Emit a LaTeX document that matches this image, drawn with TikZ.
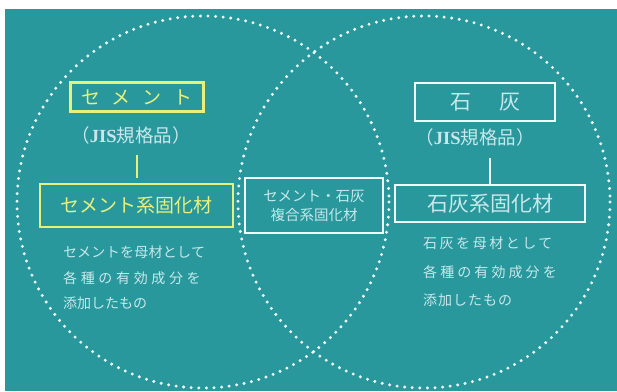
\documentclass[tikz,border=0pt]{standalone}
\usepackage{fontspec}
\newfontfamily\jp{Noto Sans CJK JP}
\newfontfamily\jisfont{Liberation Serif}
\definecolor{bg}{RGB}{40,152,157}
\definecolor{yel}{RGB}{230,240,125}
\definecolor{wht}{RGB}{240,252,252}
\definecolor{txt}{RGB}{200,232,234}
\tikzset{
  dotcircle/.style={draw=wht, line width=3.3pt, line cap=round, dash pattern=on 0pt off 7.6pt},
  ybox/.style={draw=yel, line width=2.8pt, inner sep=0pt, text=yel},
  wbox/.style={draw=wht, line width=2.2pt, inner sep=0pt, text=txt},
  jis/.style={text=txt, inner sep=0pt, font=\jp\fontsize{18.5}{20}\selectfont},
  desc/.style={text=txt, inner sep=0pt, anchor=west, font=\jp\fontsize{14}{16}\selectfont},
  yline/.style={draw=yel, line width=2.4pt},
  wline/.style={draw=wht, line width=2pt}
}
\begin{document}
\begin{tikzpicture}[x=1pt,y=-1pt]
\useasboundingbox (0,0) rectangle (617,391);
\fill[white] (0,0) rectangle (617,391);
\fill[bg] (5,9) rectangle (617,391);
\draw[dotcircle] (203,202) circle (186);
\draw[dotcircle] (424,202) circle (186);

% left side
\node[ybox, minimum width=133pt, minimum height=29pt, font=\jp\fontsize{19}{21}\selectfont] (cem) at (137,97) {セ\hspace{12pt}メ\hspace{12pt}ン\hspace{12pt}ト};
\node[jis] (jisL) at (133,135) {\hspace{-4pt}（{\jisfont\bfseries JIS}規格品）};
\node[ybox, minimum width=193pt, minimum height=43pt, font=\jp\fontsize{19}{21}\selectfont] (cemh) at (136.5,205.5) {セメント系固化材};
\coordinate (lt) at (137,155);
\coordinate (lb) at (137,178);
\draw[yline] (lt) -- (lb);
\node[desc] (dL1) at (63,252) {\addfontfeature{LetterSpace=2}セメントを母材として};
\node[desc] (dL2) at (63,278) {\addfontfeature{LetterSpace=26}各種の有効成分を};
\node[desc] (dL3) at (63,303) {添加したもの};

% right side
\node[wbox, minimum width=140pt, minimum height=38pt, font=\jp\fontsize{21}{23}\selectfont] (lime) at (485,102) {石\hspace{28pt}灰};
\node[jis] (jisR) at (475,137) {（{\jisfont\bfseries JIS}規格品）};
\node[wbox, minimum width=190pt, minimum height=37pt, font=\jp\fontsize{21}{23}\selectfont] (limeh) at (490,203.5) {石灰系固化材};
\coordinate (rt) at (490,158);
\draw[wline] (rt) -- (limeh.north);
\node[desc] (dR1) at (423,243) {\addfontfeature{LetterSpace=18}石灰を母材として};
\node[desc] (dR2) at (423,272) {\addfontfeature{LetterSpace=22}各種の有効成分を};
\node[desc] (dR3) at (423,300) {\addfontfeature{LetterSpace=7}添加したもの};

% center
\node[wbox, minimum width=138pt, minimum height=55pt, align=center, font=\jp\fontsize{14.5}{19}\selectfont] (mix) at (314,205.5) {セメント・石灰\\複合系固化材};
\end{tikzpicture}
\end{document}
